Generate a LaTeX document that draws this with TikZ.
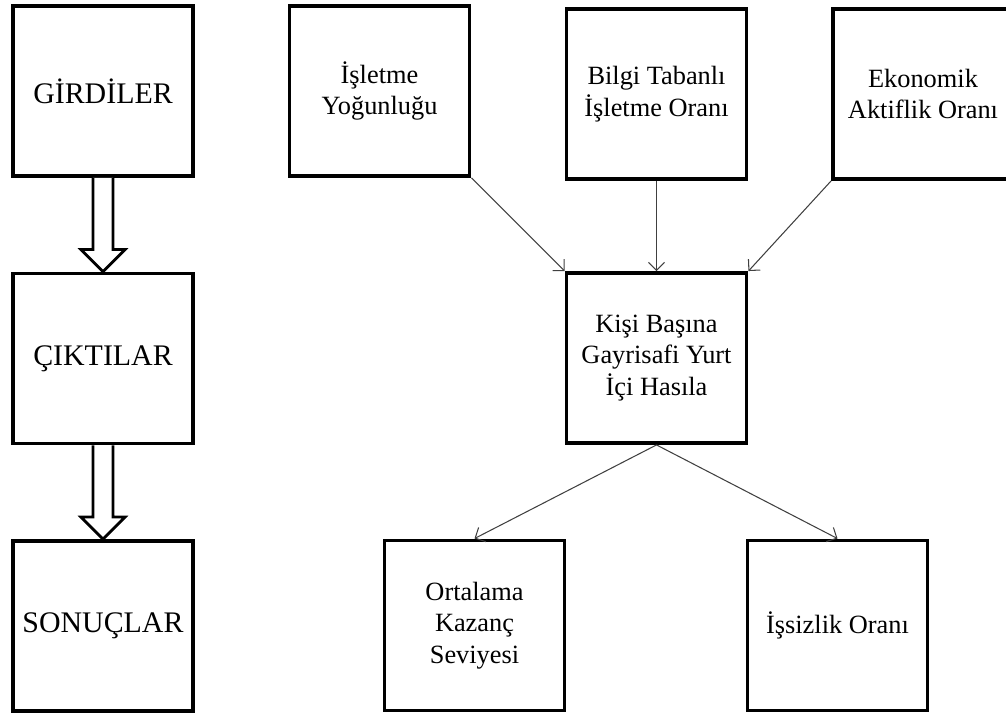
\documentclass[tikz,border=0pt]{standalone}
\usepackage{fontspec}
\setmainfont{Liberation Serif}
\usetikzlibrary{arrows.meta}
\usetikzlibrary{calc}

\begin{document}
\begin{tikzpicture}[
    box/.style={draw, line width=2.2pt, minimum width=3.6cm, minimum height=3.4cm,
        inner sep=0pt, align=center, font=\fontsize{15}{18}\selectfont},
    stage/.style={box, font=\fontsize{17}{20}\selectfont},
    link/.style={draw=black!75, line width=0.6pt, -{Straight Barb[length=1.6mm,width=3.2mm]}},
    hollow/.style={draw, line width=1.6pt, fill=white}
]
    \useasboundingbox (0,0) rectangle (20.12,-14.30);

    % Stages
    \node[stage] (girdi) at (2.06,-1.82) {GİRDİLER};
    \node[stage] (cikti) at (2.06,-7.17) {ÇIKTILAR};
    \node[stage] (sonuc) at (2.06,-12.52) {SONUÇLAR};

    % Hollow arrows between stages
    \foreach \a/\b in {girdi/cikti, cikti/sonuc} {
        \draw[hollow] ($(\a.south)+(-0.2,0)$) -- ($(\b.north)+(-0.2,0.44)$)
            -- ($(\b.north)+(-0.44,0.44)$) -- (\b.north) -- ($(\b.north)+(0.44,0.44)$)
            -- ($(\b.north)+(0.2,0.44)$) -- ($(\a.south)+(0.2,0)$);
    }

    % Inputs
    \node[box] (isletme) at (7.59,-1.82) {İşletme\\Yoğunluğu};
    \node[box] (bilgi) at (13.13,-1.88) {Bilgi Tabanlı\\İşletme Oranı};
    \node[box] (ekonomik) at (18.46,-1.88) {Ekonomik\\Aktiflik Oranı};

    % Output
    \node[box] (gsyh) at (13.13,-7.16) {Kişi Başına\\Gayrisafi Yurt\\İçi Hasıla};

    % Results
    \node[box] (ortalama) at (9.49,-12.51) {Ortalama\\Kazanç\\Seviyesi};
    \node[box] (issizlik) at (16.75,-12.51) {İşsizlik Oranı};

    % Links
    \draw[link] (isletme.south east) -- (gsyh.north west);
    \draw[link] (bilgi.south) -- (gsyh.north);
    \draw[link] (ekonomik.south west) -- (gsyh.north east);
    \draw[link] (gsyh.south) -- (ortalama.north);
    \draw[link] (gsyh.south) -- (issizlik.north);
\end{tikzpicture}
\end{document}
